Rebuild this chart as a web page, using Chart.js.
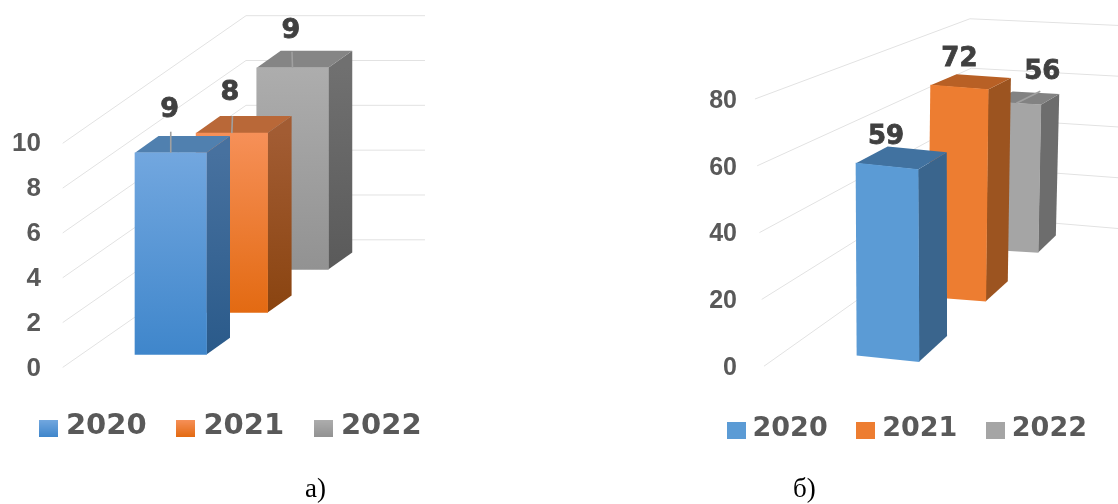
<!DOCTYPE html>
<html>
<head>
<meta charset="utf-8">
<title>Diagrams</title>
<script src="https://cdn.jsdelivr.net/npm/chart.js@4"></script>
<style>
    body { margin: 0; background: #ffffff; width: 1118px; height: 504px; overflow: hidden; position: relative; }
    canvas { position: absolute; top: 0; }
    #graficoA { left: 0; }
    #graficoB { left: 690px; }
    .legenda { position: absolute; top: 473px; font: 27px "Liberation Serif", serif; color: #000000; }
</style>
</head>
<body>
<canvas id="graficoA" width="467" height="504"></canvas>
<canvas id="graficoB" width="440" height="504"></canvas>
<div class="legenda" style="left:305px">а)</div>
<div class="legenda" style="left:793px">б)</div>

<script>
// =========================================
// DATA
// =========================================
const categorias = [""];
const anos = ["2020", "2021", "2022"];
const valoresA = [9, 8, 9];
const valoresB = [59, 72, 56];
const ticksA = [0, 2, 4, 6, 8, 10];
const ticksB = [0, 20, 40, 60, 80];

// =========================================
// COLOURS (front top, front bottom, side top, side bottom, top face)
// =========================================
const coresA = [
    ["#72A7DF", "#3F86CB", "#47719F", "#2A5A8A", "#5080AF"],
    ["#F69058", "#E36A12", "#A25C33", "#8A4410", "#B96838"],
    ["#ADADAD", "#929292", "#707070", "#5A5A5A", "#858585"]
];
const coresB = [
    ["#5B9BD5", "#5B9BD5", "#3A658D", "#3A658D", "#4172A0"],
    ["#ED7D31", "#ED7D31", "#9C5420", "#9C5420", "#B86025"],
    ["#A5A5A5", "#A5A5A5", "#6D6D6D", "#6D6D6D", "#828282"]
];

// =========================================
// 3D VIEW OF EACH PANEL
// =========================================
// Each bar keeps the library's value and scale; the view only projects it.
const vistaA = {
    bar: 71.5,
    depth: [
        { dx: -94.1, dy: -14, sx: 1, sy: 1, ky: 0, kx: 0, topLeft: [23.5, -16.7], sideTop: [23.5, -16.7], sideBase: [23.5, -16.7], label: [-1, -43], leader: [0, -21] },
        { dx: -33, dy: -56, sx: 1, sy: 1, ky: 0, kx: 0, topLeft: [24, -17], sideTop: [24, -17], sideBase: [24, -17], label: [-2, -40], leader: [0.6, -17] },
        { dx: 27.65, dy: -99, sx: 1, sy: 1, ky: 0, kx: 0, topLeft: [24, -17], sideTop: [24, -17], sideBase: [24, -17], label: [-1.5, -37], leader: [-0.5, -16] }
    ],
    // wall lines: start shift, back corner and right end, all as a share of the height above zero
    wall: { ajusteY: -1, startK: 0, cornerX: 183.3, cornerK: 1, cornerY: -127.6, endX: 362.3, endY: -127.6, endK: 1, cornerXK: 0 }
};
const vistaB = {
    bar: 64,
    depth: [
        { dx: -59, dy: -9.7, sx: 0.97, sy: 0.975, ky: 0.1, kx: 0.005, topLeft: [31.7, -16.6], sideTop: [28.7, -17.3], sideBase: [28, -25.7], label: [-1, -29.5], leader: null },
        { dx: 10, dy: -69.2, sx: 0.9, sy: 0.88, ky: 0.07, kx: -0.01, topLeft: [26, -11], sideTop: [22.7, -11.7], sideBase: [22, -20], label: [0, -28.5], leader: null },
        { dx: 66.5, dy: -117.2, sx: 0.77, sy: 0.79, ky: 0.047, kx: -0.015, topLeft: [21, -10.3], sideTop: [18.3, -10.7], sideBase: [17.7, -17], label: [26, -31], leader: [24, -12] }
    ],
    wall: { ajusteY: -2, startK: 0.034, cornerX: 211, cornerXK: 0.019, cornerY: -149.7, cornerK: 0.74, endX: 354, endY: -137.7, endK: 0.76 }
};

// =========================================
// PLUGIN THAT DRAWS THE WALLS, THE SIDES AND THE LABELS
// =========================================
function criarPlugin3d(vista, cores, fonteRotulo) {
    function mapa(chart, i) {
        const el = chart.getDatasetMeta(i).data[0];
        const p0 = chart.scales.y.getPixelForValue(0);
        const d = vista.depth[i];
        const e = el.x + d.dx - d.sx * el.x - d.kx * p0;
        const f = p0 + d.dy - d.ky * el.x - d.sy * p0;
        return { a: d.sx, b: d.ky, c: d.kx, d: d.sy, e: e, f: f };
    }

    function ponto(m, x, y) {
        return [m.a * x + m.c * y + m.e, m.b * x + m.d * y + m.f];
    }

    function face(ctx, pontos, cor) {
        ctx.beginPath();
        pontos.forEach((p, n) => (n ? ctx.lineTo(p[0], p[1]) : ctx.moveTo(p[0], p[1])));
        ctx.closePath();
        ctx.fillStyle = cor;
        ctx.fill();
    }

    return {
        id: "bar3d",

        // Grid lines on the floor side and on the back wall
        beforeDatasetsDraw(chart) {
            const { ctx, scales, chartArea } = chart;
            const zero = scales.y.getPixelForValue(0);
            const w = vista.wall;
            const p0 = zero + w.ajusteY;
            ctx.save();
            ctx.strokeStyle = "#E2E2E2";
            ctx.lineWidth = 1;
            scales.y.ticks.forEach((t) => {
                const alto = zero - scales.y.getPixelForValue(t.value);
                const x0 = chartArea.left;
                ctx.beginPath();
                ctx.moveTo(x0 - alto * w.startK, p0 - alto);
                ctx.lineTo(x0 + w.cornerX - alto * w.cornerXK, p0 + w.cornerY - alto * w.cornerK);
                ctx.lineTo(x0 + w.endX, p0 + w.endY - alto * w.endK);
                ctx.stroke();
            });
            ctx.restore();
        },

        // Side and top faces first, then the library draws the front under the projection
        beforeDatasetDraw(chart, args) {
            const { ctx } = chart;
            const i = args.index;
            const d = vista.depth[i];
            const el = chart.getDatasetMeta(i).data[0];
            const m = mapa(chart, i);
            const meio = vista.bar / 2;
            const tl = ponto(m, el.x - meio, el.y);
            const tr = ponto(m, el.x + meio, el.y);
            const br = ponto(m, el.x + meio, el.base);
            const tlb = [tl[0] + d.topLeft[0], tl[1] + d.topLeft[1]];
            const trb = [tr[0] + d.sideTop[0], tr[1] + d.sideTop[1]];
            const brb = [br[0] + d.sideBase[0], br[1] + d.sideBase[1]];

            const grad = ctx.createLinearGradient(0, tr[1], 0, br[1]);
            grad.addColorStop(0, cores[i][2]);
            grad.addColorStop(1, cores[i][3]);
            face(ctx, [tr, trb, brb, br], grad);
            face(ctx, [tl, tlb, trb, tr], cores[i][4]);

            ctx.save();
            ctx.transform(m.a, m.b, m.c, m.d, m.e, m.f);
        },

        afterDatasetDraw(chart) {
            chart.ctx.restore();
        },

        // Value labels and their thin leader lines
        afterDatasetsDraw(chart) {
            const { ctx } = chart;
            chart.data.datasets.forEach((ds, i) => {
                const d = vista.depth[i];
                const el = chart.getDatasetMeta(i).data[0];
                const topo = ponto(mapa(chart, i), el.x, el.y);
                if (d.leader) {
                    ctx.strokeStyle = "#A0A0A0";
                    ctx.lineWidth = 1.6;
                    ctx.beginPath();
                    ctx.moveTo(topo[0], topo[1]);
                    ctx.lineTo(topo[0] + d.leader[0], topo[1] + d.leader[1]);
                    ctx.stroke();
                }
                ctx.fillStyle = "#404040";
                ctx.strokeStyle = "#404040";
                ctx.lineWidth = 0.8;
                ctx.font = fonteRotulo;
                ctx.textAlign = "center";
                ctx.textBaseline = "middle";
                ctx.fillText(String(ds.data[0]), topo[0] + d.label[0], topo[1] + d.label[1]);
                ctx.strokeText(String(ds.data[0]), topo[0] + d.label[0], topo[1] + d.label[1]);
            });
        }
    };
}

// =========================================
// LEGEND SWATCH (small canvas used as point style)
// =========================================
function criarAmostra(cor, largura, altura, descida) {
    const c = document.createElement("canvas");
    c.width = largura;
    c.height = altura + descida * 2;
    const g = c.getContext("2d");
    const grad = g.createLinearGradient(0, descida * 2, 0, c.height);
    grad.addColorStop(0, cor[0]);
    grad.addColorStop(1, cor[1]);
    g.fillStyle = grad;
    g.fillRect(0, descida * 2, largura, altura);
    return c;
}

// =========================================
// CHART CREATION
// =========================================
function criarGrafico(id, valores, ticks, cores, vista, cfg) {
    const el = document.getElementById(id);

    new Chart(el, {
        type: "bar",
        data: {
            labels: categorias,
            datasets: anos.map((ano, i) => ({
                label: ano,
                data: [valores[i]],
                grouped: false,
                clip: false,
                barThickness: vista.bar,
                borderWidth: 0,
                backgroundColor(c) {
                    const { chart } = c;
                    if (!chart.chartArea) return cores[i][0];
                    const y = chart.scales.y;
                    const grad = chart.ctx.createLinearGradient(0, y.getPixelForValue(valores[i]), 0, y.getPixelForValue(0));
                    grad.addColorStop(0, cores[i][0]);
                    grad.addColorStop(1, cores[i][1]);
                    return grad;
                }
            }))
        },
        options: {
            responsive: false,
            animation: false,
            layout: { padding: { top: cfg.topo, bottom: cfg.baixo } },
            plugins: {
                tooltip: { enabled: false },
                legend: {
                    position: "bottom",
                    labels: {
                        usePointStyle: true,
                        boxWidth: 6,
                        padding: cfg.legendaEspaco,
                        color: "#595959",
                        font: { family: "DejaVu Sans", weight: "bold", size: cfg.legendaFonte },
                        generateLabels: () => anos.map((ano, i) => ({
                            text: ano,
                            datasetIndex: i,
                            hidden: false,
                            lineWidth: 0,
                            strokeStyle: "transparent",
                            fillStyle: cores[i][0],
                            fontColor: "#595959",
                            pointStyle: criarAmostra(cores[i], 19, 17, cfg.amostraDescida)
                        }))
                    }
                }
            },
            scales: {
                x: {
                    display: true,
                    grid: { display: false },
                    border: { display: false },
                    ticks: { display: false },
                    afterFit(scale) { scale.height = cfg.espacoX; }
                },
                y: {
                    min: ticks[0],
                    max: ticks[ticks.length - 1],
                    grid: { display: false, drawTicks: false },
                    border: { display: false },
                    afterBuildTicks(scale) { scale.ticks = ticks.map((v) => ({ value: v })); },
                    afterFit(scale) { scale.width = cfg.larguraY; },
                    ticks: {
                        padding: cfg.ticksEspaco,
                        color: "#595959",
                        font: { family: "Liberation Sans", weight: "bold", size: cfg.ticksFonte }
                    }
                }
            }
        },
        plugins: [criarPlugin3d(vista, cores, "bold " + cfg.rotuloFonte + "px 'DejaVu Sans'")]
    });
}

// =========================================
// RUN EVERYTHING ONLY WHEN THE HTML IS LOADED
// =========================================
window.addEventListener("DOMContentLoaded", () => {
    criarGrafico("graficoA", valoresA, ticksA, coresA, vistaA, {
        topo: 144.3, baixo: 53.5, espacoX: 6.8, larguraY: 62.7, ticksEspaco: 21.7,
        ticksFonte: 26, legendaFonte: 29, legendaEspaco: 36.3, amostraDescida: 2.5, rotuloFonte: 27
    });
    criarGrafico("graficoB", valoresB, ticksB, coresB, vistaB, {
        topo: 101, baixo: 52, espacoX: 11.8, larguraY: 74, ticksEspaco: 27,
        ticksFonte: 25, legendaFonte: 27, legendaEspaco: 35, amostraDescida: 2, rotuloFonte: 26
    });
});
</script>
</body>
</html>
